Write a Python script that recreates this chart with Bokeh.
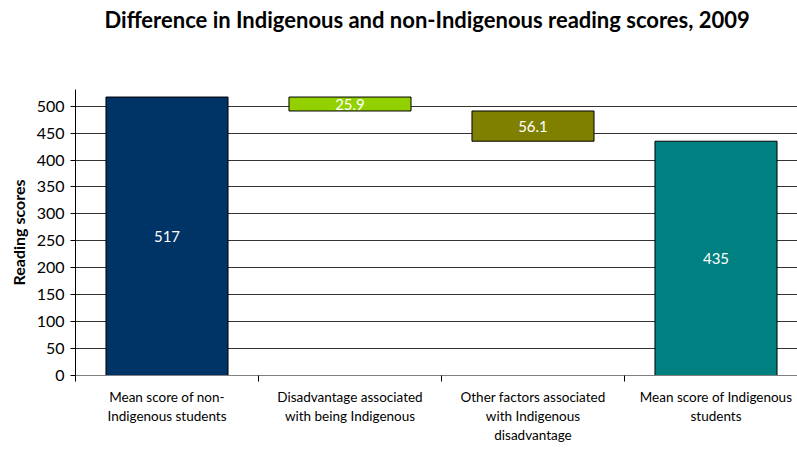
from bokeh.plotting import figure
from bokeh.models import Range1d, FixedTicker, ColumnDataSource, LabelSet, Title
from bokeh.core.properties import value
from bokeh.embed import file_html
from bokeh.resources import INLINE

title_text = "Difference in Indigenous and non-Indigenous reading scores, 2009"
categories = ["Mean score of non-\nIndigenous students",
              "Disadvantage associated\nwith being Indigenous",
              "Other factors associated\nwith Indigenous\ndisadvantage",
              "Mean score of Indigenous\nstudents"]
values = [517, 25.9, 56.1, 435]
kinds = ["total", "decrease", "decrease", "total"]
labels = ["517", "25.9", "56.1", "435"]
colors = ["#003366", "#92D000", "#808000", "#008080"]
y_ticks = list(range(0, 501, 50))

# waterfall geometry
bottoms, tops = [], []
running = 0
for v, k in zip(values, kinds):
    if k == "total":
        bottoms.append(0); tops.append(v); running = v
    else:
        tops.append(running); running = running - v; bottoms.append(running)
xs = [i + 0.5 for i in range(len(categories))]
mids = [(b + t) / 2 for b, t in zip(bottoms, tops)]

src = ColumnDataSource(dict(x=xs, bottom=bottoms, top=tops, color=colors,
                            mid=mids, label=labels))

FONT = "Lato"
W, H = 797, 459
LEFT, TOP, BOTTOM = 75, 89, 84
p = figure(width=W, height=H, output_backend="svg", toolbar_location=None,
           title=None,
           x_range=Range1d(0, (W - LEFT) / 183), y_range=Range1d(0, 531),
           min_border_left=LEFT, min_border_right=0, min_border_top=TOP,
           min_border_bottom=BOTTOM)
p.outline_line_color = None
p.background_fill_color = "white"

# spacer (closest to frame), then the real title above it
p.add_layout(Title(text=" ", text_font_size="10px", standoff=44), "above")
p.add_layout(Title(text=title_text, text_font=FONT, text_font_size="22px",
                   text_font_style="bold", text_color="black",
                   align="left", offset=29, standoff=0), "above")

p.vbar(x="x", bottom="bottom", top="top", width=0.667, fill_color="color",
       line_color="black", line_width=1, source=src)
p.add_layout(LabelSet(x="x", y="mid", text="label", source=src,
                      text_color="white", text_font=value(FONT), text_font_size="15px",
                      text_align="center", text_baseline="middle"))

# axes
p.xaxis.ticker = FixedTicker(ticks=xs, minor_ticks=list(range(len(categories) + 1)))
p.xaxis.major_label_overrides = {x: c for x, c in zip(xs, categories)}
p.xaxis.major_tick_line_color = None
p.xaxis.minor_tick_in = 0
p.xaxis.minor_tick_out = 6
p.xaxis.minor_tick_line_color = "black"
p.xaxis.axis_line_color = "#808080"
p.xaxis.major_label_text_font = FONT
p.xaxis.major_label_text_font_size = "13.5px"
p.xaxis.major_label_text_color = "black"
p.xaxis.major_label_standoff = 7

p.yaxis.ticker = FixedTicker(ticks=y_ticks)
p.yaxis.axis_label = "Reading scores"
p.yaxis.axis_label_text_font = FONT
p.yaxis.axis_label_text_font_size = "16px"
p.yaxis.axis_label_text_font_style = "bold"
p.yaxis.axis_label_text_color = "black"
p.yaxis.axis_label_standoff = 6
p.yaxis.major_label_text_font = FONT
p.yaxis.major_label_text_font_size = "16px"
p.yaxis.major_label_text_color = "black"
p.yaxis.major_tick_in = 0
p.yaxis.major_tick_out = 5
p.yaxis.minor_tick_line_color = None
p.yaxis.axis_line_color = "black"
p.yaxis.major_label_standoff = 6

p.xgrid.grid_line_color = None
p.ygrid.grid_line_color = "#333333"
p.ygrid.grid_line_alpha = 1

open("out.html", "w").write(file_html(p, INLINE))
